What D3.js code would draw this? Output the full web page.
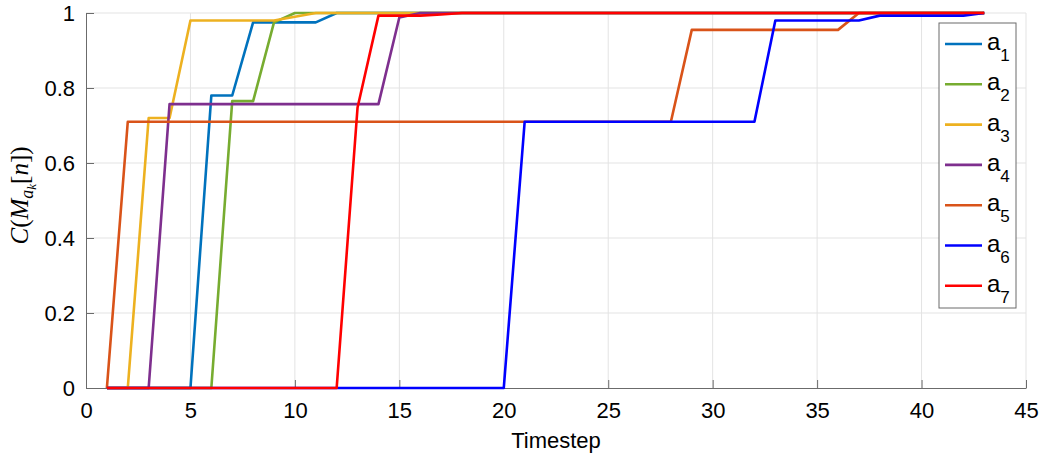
<!DOCTYPE html>
<html>
<head>
<meta charset="utf-8">
<script src="https://cdn.jsdelivr.net/npm/d3@7"></script>
<style>
    body { margin: 0; background: #fff; }
    svg { display: block; font-family: 'Liberation Sans', Arial, sans-serif; }
</style>
</head>
<body>
<div class="chart-container"></div>
<script>
// Data
const timesteps = [1, 2, 3, 4, 5, 6, 7, 8, 9, 10, 11, 12, 13, 14, 15, 16, 17, 18, 19, 20, 21, 22,
    23, 24, 25, 26, 27, 28, 29, 30, 31, 32, 33, 34, 35, 36, 37, 38, 39, 40, 41, 42, 43];

const a1 = [0, 0, 0, 0, 0, 0.78, 0.78, 0.975, 0.975, 0.975, 0.975, 1, 1, 1, 1, 1, 1, 1, 1, 1, 1, 1,
    1, 1, 1, 1, 1, 1, 1, 1, 1, 1, 1, 1, 1, 1, 1, 1, 1, 1, 1, 1, 1];
const a2 = [0, 0, 0, 0, 0, 0, 0.765, 0.765, 0.975, 1, 1, 1, 1, 1, 1, 1, 1, 1, 1, 1, 1, 1,
    1, 1, 1, 1, 1, 1, 1, 1, 1, 1, 1, 1, 1, 1, 1, 1, 1, 1, 1, 1, 1];
const a3 = [0, 0, 0.72, 0.72, 0.98, 0.98, 0.98, 0.98, 0.98, 0.99, 1, 1, 1, 1, 1, 1, 1, 1, 1, 1, 1, 1,
    1, 1, 1, 1, 1, 1, 1, 1, 1, 1, 1, 1, 1, 1, 1, 1, 1, 1, 1, 1, 1];
const a4 = [0, 0, 0, 0.757, 0.757, 0.757, 0.757, 0.757, 0.757, 0.757, 0.757, 0.757, 0.757, 0.757, 0.988, 1, 1, 1, 1, 1, 1, 1,
    1, 1, 1, 1, 1, 1, 1, 1, 1, 1, 1, 1, 1, 1, 1, 1, 1, 1, 1, 1, 1];
const a5 = [0, 0.71, 0.71, 0.71, 0.71, 0.71, 0.71, 0.71, 0.71, 0.71, 0.71, 0.71, 0.71, 0.71, 0.71, 0.71, 0.71, 0.71, 0.71, 0.71, 0.71, 0.71,
    0.71, 0.71, 0.71, 0.71, 0.71, 0.71, 0.955, 0.955, 0.955, 0.955, 0.955, 0.955, 0.955, 0.955, 1, 1, 1, 1, 1, 1, 1];
const a6 = [0, 0, 0, 0, 0, 0, 0, 0, 0, 0, 0, 0, 0, 0, 0, 0, 0, 0, 0, 0, 0.71, 0.71,
    0.71, 0.71, 0.71, 0.71, 0.71, 0.71, 0.71, 0.71, 0.71, 0.71, 0.98, 0.98, 0.98, 0.98, 0.98, 0.993, 0.993, 0.993, 0.993, 0.993, 1];
const a7 = [0, 0, 0, 0, 0, 0, 0, 0, 0, 0, 0, 0, 0.748, 0.993, 0.993, 0.993, 0.996, 1, 1, 1, 1, 1,
    1, 1, 1, 1, 1, 1, 1, 1, 1, 1, 1, 1, 1, 1, 1, 1, 1, 1, 1, 1, 1];

const seriesNames = ['1', '2', '3', '4', '5', '6', '7'];
const seriesValues = [a1, a2, a3, a4, a5, a6, a7];
const seriesColors = ['#0072BD', '#77AC30', '#EDB120', '#7E2F8E', '#D95319', '#0000FF', '#FF0000'];

const xTicks = [0, 5, 10, 15, 20, 25, 30, 35, 40, 45];
const yTicks = [0, 0.2, 0.4, 0.6, 0.8, 1];

// Main
function ready() {
    const svgWidth = 1041;
    const svgHeight = 458;
    const margin = { top: 13, right: 15, bottom: 70, left: 86 };
    const width = svgWidth - margin.left - margin.right;
    const height = svgHeight - margin.top - margin.bottom;

    const xScale = d3.scaleLinear().domain([0, 45]).range([0, width]);
    const yScale = d3.scaleLinear().domain([0, 1]).range([height, 0]);

    const svg = d3.select('.chart-container')
        .append('svg')
        .attr('width', svgWidth)
        .attr('height', svgHeight)
        .append('g')
        .attr('transform', 'translate(' + margin.left + ',' + margin.top + ')');

    // Grid
    svg.append('g')
        .selectAll('line')
        .data(xTicks.slice(1))
        .join('line')
        .attr('x1', d => xScale(d)).attr('x2', d => xScale(d))
        .attr('y1', 0).attr('y2', height)
        .attr('stroke', '#e3e3e3').attr('stroke-width', 1);

    svg.append('g')
        .selectAll('line')
        .data(yTicks.slice(1))
        .join('line')
        .attr('x1', 0).attr('x2', width)
        .attr('y1', d => yScale(d)).attr('y2', d => yScale(d))
        .attr('stroke', '#e3e3e3').attr('stroke-width', 1);

    // Axes
    const xAxis = d3.axisBottom(xScale)
        .tickValues(xTicks)
        .tickFormat(d3.format('d'))
        .tickSizeInner(-8)
        .tickSizeOuter(0)
        .tickPadding(14);

    const xAxisDraw = svg.append('g')
        .attr('class', 'x axis')
        .attr('transform', 'translate(0,' + height + ')');
    xAxis(xAxisDraw);

    const yAxis = d3.axisLeft(yScale)
        .tickValues(yTicks)
        .tickFormat(d => d === 0 || d === 1 ? d3.format('d')(d) : d3.format('.1f')(d))
        .tickSizeInner(-8)
        .tickSizeOuter(0)
        .tickPadding(11);

    const yAxisDraw = svg.append('g').attr('class', 'y axis');
    yAxis(yAxisDraw);

    svg.selectAll('.axis path, .axis line')
        .attr('stroke', '#6b6b6b')
        .attr('stroke-width', 1);
    svg.selectAll('.axis text')
        .attr('fill', '#000')
        .style('font-size', '22px')
        .style('font-family', "'Liberation Sans', Arial, sans-serif");

    // Lines
    const line = d3.line()
        .x((d, i) => xScale(timesteps[i]))
        .y(d => yScale(d));

    svg.append('g')
        .selectAll('path')
        .data(seriesValues)
        .join('path')
        .attr('d', d => line(d))
        .attr('fill', 'none')
        .attr('stroke', (d, i) => seriesColors[i])
        .attr('stroke-width', 2.6)
        .attr('stroke-linejoin', 'round');

    // Axis labels
    svg.append('text')
        .attr('x', width / 2)
        .attr('y', height + 60)
        .attr('text-anchor', 'middle')
        .style('font-size', '22px')
        .text('Timestep');

    const yLabel = svg.append('text')
        .attr('transform', 'translate(' + (-58) + ',' + (height / 2 - 5) + ') rotate(-90)')
        .attr('text-anchor', 'middle')
        .style('font-family', "'Liberation Serif', 'DejaVu Serif', serif")
        .style('font-size', '25px');
    yLabel.append('tspan').style('font-style', 'italic').text('C');
    yLabel.append('tspan').text('(');
    yLabel.append('tspan').style('font-style', 'italic').text('M');
    yLabel.append('tspan').style('font-style', 'italic').style('font-size', '18px').attr('dy', 5).text('a');
    yLabel.append('tspan').style('font-style', 'italic').style('font-size', '13px').attr('dy', 3).text('k');
    yLabel.append('tspan').attr('dy', -8).text('[');
    yLabel.append('tspan').style('font-style', 'italic').text('n');
    yLabel.append('tspan').text('])');

    // Legend
    const legend = svg.append('g')
        .attr('transform', 'translate(' + (939 - margin.left) + ',' + (23 - margin.top) + ')');

    legend.append('rect')
        .attr('width', 77)
        .attr('height', 285)
        .attr('fill', '#fff')
        .attr('stroke', '#6b6b6b')
        .attr('stroke-width', 1);

    const items = legend.selectAll('.legend-item')
        .data(seriesNames)
        .join('g')
        .attr('class', 'legend-item')
        .attr('transform', (d, i) => 'translate(0,' + (21 + i * 40.3) + ')');

    items.append('line')
        .attr('x1', 6).attr('x2', 43)
        .attr('stroke', (d, i) => seriesColors[i])
        .attr('stroke-width', 2.6);

    const labels = items.append('text')
        .attr('x', 48)
        .attr('y', 6)
        .style('font-size', '24px');
    labels.append('tspan').text('a');
    labels.append('tspan').attr('dy', 11).style('font-size', '17px').text(d => d);
}

ready();
</script>
</body>
</html>
